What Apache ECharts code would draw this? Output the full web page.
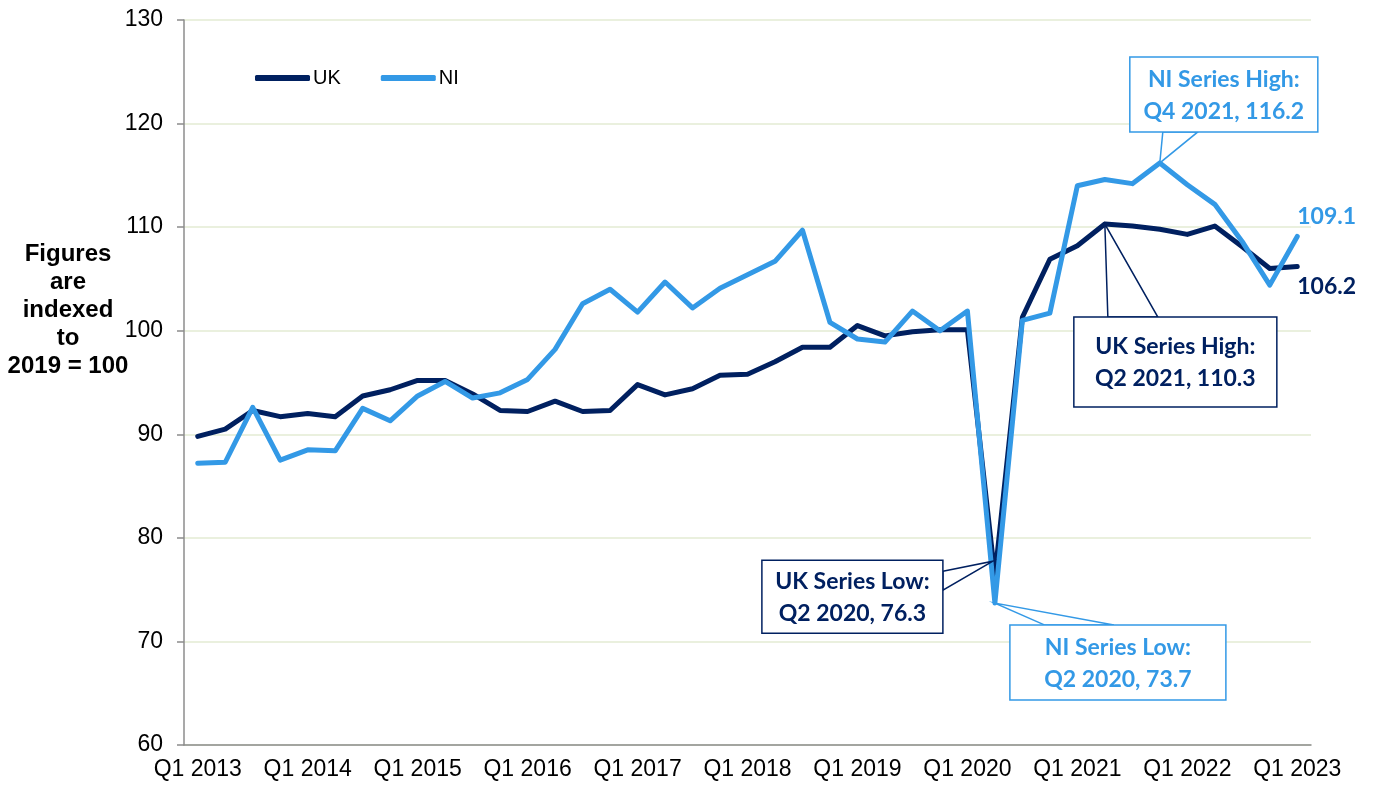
<!DOCTYPE html>
<html>
<head>
    <title>UK and NI index, 2019 = 100</title>
    <meta charset="utf-8">
    <script src="https://cdn.jsdelivr.net/npm/echarts@6/dist/echarts.min.js"></script>
    <style>
        html, body { margin: 0; padding: 0; background: #fff; }
    </style>
</head>
<body>
    <div id="main" style="width: 1375px; height: 785px;"></div>

<script type="text/javascript">
    // quarters Q1 2013 .. Q1 2023
    var quarters = [
        'Q1 2013', 'Q2 2013', 'Q3 2013', 'Q4 2013',
        'Q1 2014', 'Q2 2014', 'Q3 2014', 'Q4 2014',
        'Q1 2015', 'Q2 2015', 'Q3 2015', 'Q4 2015',
        'Q1 2016', 'Q2 2016', 'Q3 2016', 'Q4 2016',
        'Q1 2017', 'Q2 2017', 'Q3 2017', 'Q4 2017',
        'Q1 2018', 'Q2 2018', 'Q3 2018', 'Q4 2018',
        'Q1 2019', 'Q2 2019', 'Q3 2019', 'Q4 2019',
        'Q1 2020', 'Q2 2020', 'Q3 2020', 'Q4 2020',
        'Q1 2021', 'Q2 2021', 'Q3 2021', 'Q4 2021',
        'Q1 2022', 'Q2 2022', 'Q3 2022', 'Q4 2022',
        'Q1 2023'
    ];

    var uk = [89.8, 90.5, 92.3, 91.7, 92.0, 91.7, 93.7, 94.3, 95.2, 95.2,
              93.9, 92.3, 92.2, 93.2, 92.2, 92.3, 94.8, 93.8, 94.4, 95.7,
              95.8, 97.0, 98.4, 98.4, 100.5, 99.5, 99.9, 100.1, 100.1, 76.3,
              101.3, 106.9, 108.2, 110.3, 110.1, 109.8, 109.3, 110.1, 108.1, 106.0,
              106.2];

    var ni = [87.2, 87.3, 92.6, 87.5, 88.5, 88.4, 92.5, 91.3, 93.7, 95.1,
              93.5, 94.0, 95.3, 98.2, 102.6, 104.0, 101.8, 104.7, 102.2, 104.1,
              105.4, 106.7, 109.7, 100.8, 99.2, 98.9, 101.9, 100.0, 101.9, 73.7,
              101.0, 101.7, 114.0, 114.6, 114.2, 116.2, 114.1, 112.2, 108.6, 104.4,
              109.1];

    var UK_COLOR = '#002060';
    var NI_COLOR = '#3399e6';
    var AXIS_FONT = '"Liberation Sans", Arial, sans-serif';
    var NOTE_FONT = 'Lato, "Open Sans", sans-serif';

    var myChart = echarts.init(document.getElementById('main'));

    var option = {
        animation: false,
        backgroundColor: '#fff',
        grid: { left: 184, right: 64, top: 20, bottom: 40 },
        legend: {
            left: 255,
            top: 68,
            padding: 0,
            itemGap: 40,
            itemWidth: 55,
            itemHeight: 6,
            icon: 'roundRect',
            textStyle: { fontFamily: AXIS_FONT, fontSize: 20, color: '#000', padding: [0, 0, 0, -2] },
            data: ['UK', 'NI']
        },
        xAxis: {
            type: 'category',
            data: quarters,
            boundaryGap: true,
            axisLine: { lineStyle: { color: '#8c8c8c', width: 1.5 } },
            axisTick: { interval: 0, length: 7, lineStyle: { color: '#8c8c8c', width: 1.5 } },
            axisLabel: {
                interval: 3,
                margin: 13,
                color: '#000',
                fontFamily: AXIS_FONT,
                fontSize: 23
            },
            splitLine: { show: false }
        },
        yAxis: {
            type: 'value',
            min: 60,
            max: 130,
            interval: 10,
            axisLine: { show: true, lineStyle: { color: '#8c8c8c', width: 1.5 } },
            axisTick: { show: true, length: 7, lineStyle: { color: '#8c8c8c', width: 1.5 } },
            axisLabel: {
                margin: 21,
                color: '#000',
                fontFamily: AXIS_FONT,
                fontSize: 23
            },
            splitLine: { lineStyle: { color: '#e3ebd3', width: 1.5 } }
        },
        series: [
            {
                name: 'UK',
                type: 'line',
                data: uk,
                symbol: 'none',
                color: UK_COLOR,
                lineStyle: { width: 5, color: UK_COLOR, cap: 'round', join: 'round' }
            },
            {
                name: 'NI',
                type: 'line',
                data: ni,
                symbol: 'none',
                color: NI_COLOR,
                lineStyle: { width: 5, color: NI_COLOR, cap: 'round', join: 'round' }
            }
        ]
    };

    myChart.setOption(option);

    // callouts: anchored on a data point, box placed relative to it
    var notes = [
        { series: 1, index: 35, text: 'NI Series High:\nQ4 2021, 116.2', color: NI_COLOR,
          tip: [0, 0], box: [-30, -106, 188, 75], feet: [[3, -31], [38, -31]] },
        { series: 0, index: 33, text: 'UK Series High:\nQ2 2021, 110.3', color: UK_COLOR,
          tip: [0, 0], box: [-31, 93, 203, 90], feet: [[3, 93], [53, 93]] },
        { series: 0, index: 29, text: 'UK Series Low:\nQ2 2020, 76.3', color: UK_COLOR,
          tip: [-2, -15], box: [-233, -16, 181, 73], feet: [[-52, -5], [-52, 14]] },
        { series: 1, index: 29, text: 'NI Series Low:\nQ2 2020, 73.7', color: NI_COLOR,
          tip: [0, 0], box: [15, 22, 216, 75], feet: [[50, 22], [119, 22]] }
    ];

    var seriesData = [uk, ni];
    var graphics = [];

    // y axis title
    graphics.push({
        type: 'text',
        x: 68,
        y: 310,
        z: 100,
        style: {
            text: 'Figures\nare\nindexed\nto\n2019 = 100',
            fill: '#000',
            font: 'bold 24px ' + AXIS_FONT,
            lineHeight: 28,
            align: 'center', textAlign: 'center',
            verticalAlign: 'middle', textVerticalAlign: 'middle'
        }
    });

    notes.forEach(function(n) {
        var p = myChart.convertToPixel({ seriesIndex: n.series }, [n.index, seriesData[n.series][n.index]]);
        var tip = [p[0] + n.tip[0], p[1] + n.tip[1]];
        var f1 = [p[0] + n.feet[0][0], p[1] + n.feet[0][1]];
        var f2 = [p[0] + n.feet[1][0], p[1] + n.feet[1][1]];
        var bx = p[0] + n.box[0], by = p[1] + n.box[1];
        graphics.push({
            type: 'polygon', z: 100,
            shape: { points: [f1, tip, f2] },
            style: { fill: '#fff', stroke: n.color, lineWidth: 1.5 }
        });
        graphics.push({
            type: 'rect', z: 101,
            shape: { x: bx, y: by, width: n.box[2], height: n.box[3] },
            style: { fill: '#fff', stroke: n.color, lineWidth: 1.5 }
        });
        graphics.push({
            type: 'text', z: 102,
            x: bx + n.box[2] / 2,
            y: by + n.box[3] / 2 + 1,
            style: {
                text: n.text,
                fill: n.color,
                font: 'bold 23px ' + NOTE_FONT,
                lineHeight: 32,
                align: 'center', textAlign: 'center',
                verticalAlign: 'middle', textVerticalAlign: 'middle'
            }
        });
    });

    // end-of-series value labels
    var last = quarters.length - 1;
    [[1, NI_COLOR, -20], [0, UK_COLOR, 20]].forEach(function(e) {
        var v = seriesData[e[0]][last];
        var p = myChart.convertToPixel({ seriesIndex: e[0] }, [last, v]);
        graphics.push({
            type: 'text', z: 102,
            x: p[0],
            y: p[1] + e[2],
            style: {
                text: v.toFixed(1),
                fill: e[1],
                font: 'bold 23px ' + NOTE_FONT,
                align: 'left', textAlign: 'left',
                verticalAlign: 'middle', textVerticalAlign: 'middle'
            }
        });
    });

    myChart.setOption({ graphic: graphics });
</script>
</body>
</html>
